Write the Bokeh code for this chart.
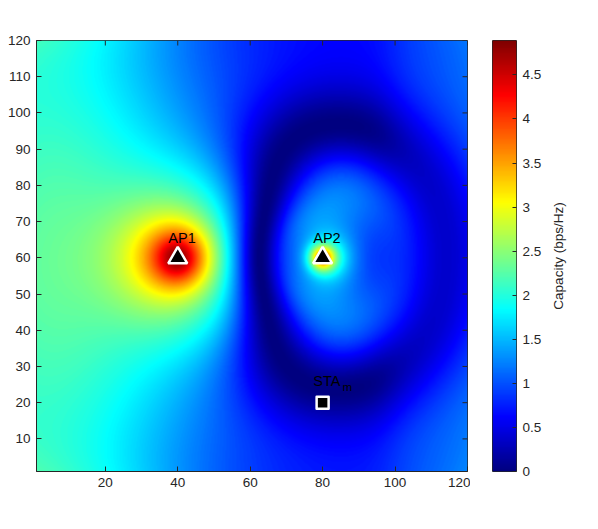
import numpy as np
from bokeh.plotting import figure
from bokeh.models import LinearColorMapper, Range1d, FixedTicker
from bokeh.layouts import row
from bokeh.embed import file_html
from bokeh.resources import INLINE
from bokeh.core.properties import value

# ---------------- data ----------------
ap_x = [40, 80]
ap_y = [60, 60]
ap_names = ["AP1", "AP2"]
sta_x = [80]
sta_y = [20]
sta_name = ["STA"]
sta_sub = ["m"]

x_ticks = [20, 40, 60, 80, 100, 120]
y_ticks = [10, 20, 30, 40, 50, 60, 70, 80, 90, 100, 110, 120]
cb_ticks = [0, 0.5, 1, 1.5, 2, 2.5, 3, 3.5, 4, 4.5]
cb_tick_labels = ["0", "0.5", "1", "1.5", "2", "2.5", "3", "3.5", "4", "4.5"]
c_max = 4.89
field_x = (1, 120)
field_y = (1, 120)
cb_label = "Capacity (bps/Hz)"

# capacity readings (x positions, values) along rows of constant y
row_y120_x = [1, 8.5, 17.7, 27, 36, 45, 55, 59, 66.6, 76, 85, 94, 104, 113, 120]
row_y120_c = [2.3, 2.0, 1.8, 1.6, 1.4, 1.2, 0.9, 0.8, 0.75, 0.6, 0.65, 0.8, 0.95, 1.1, 1.3]
row_y110_x = [57, 66.6, 76, 85, 94, 104, 113, 120]
row_y110_c = [0.9, 0.6, 0.4, 0.5, 0.7, 0.85, 1.0, 1.15]
row_y100_x = [1, 8.5, 17.7, 27, 36, 45, 55, 59, 66.6, 76, 80, 85, 94, 104, 113, 120]
row_y100_c = [2.1, 2.0, 1.85, 1.75, 1.6, 1.35, 1.0, 0.75, 0.5, 0.15, 0.15, 0.3, 0.5, 0.75, 0.9, 1.05]
row_y90_x = [57, 63, 66.6, 76, 85, 94, 99, 104, 113, 120]
row_y90_c = [0.8, 0.5, 0.25, 0.5, 0.6, 0.45, 0.4, 0.5, 0.75, 0.9]
row_y80_x = [1, 8.5, 17.7, 27, 36, 45, 51, 55, 59, 63, 66.6, 76, 80, 85, 94, 104, 113, 120]
row_y80_c = [2.2, 2.3, 2.2, 2.1, 2.0, 1.8, 1.5, 1.2, 0.7, 0.3, 0.4, 0.9, 1.0, 0.9, 0.65, 0.45, 0.45, 0.7]
row_y70_x = [1, 8.5, 17.7, 27, 36, 40, 45, 51, 55, 59, 63, 66.6, 76, 80, 85, 94, 104, 113, 120]
row_y70_c = [2.2, 2.4, 2.5, 2.7, 3.0, 3.3, 3.0, 2.0, 1.3, 0.6, 0.2, 0.5, 1.3, 1.7, 1.3, 0.9, 0.6, 0.5, 0.6]
row_y60_x = [1, 8.5, 17.7, 27, 31.5, 36, 40, 45, 48, 51, 53, 55, 57.4, 59, 61, 63, 66.6, 71, 75, 77,
             80, 83, 87, 94, 104, 113, 120]
row_y60_c = [2.2, 2.4, 2.6, 3.0, 3.7, 4.3, 4.87, 4.0, 3.1, 2.4, 1.9, 1.5, 1.1, 0.7, 0.3, 0.15, 0.55, 1.0,
             1.8, 2.4, 4.2, 2.6, 1.7, 1.2, 0.8, 0.6, 0.65]
row_y50_x = [57, 63, 66.6, 76, 80, 85, 94, 104, 113, 120]
row_y50_c = [0.8, 0.25, 0.5, 1.2, 1.5, 1.2, 0.85, 0.65, 0.55, 0.65]
row_y40_x = [1, 8.5, 17.7, 27, 36, 45, 51, 55, 59, 63, 66.6, 76, 80, 85, 94, 104, 113, 120]
row_y40_c = [2.1, 2.3, 2.3, 2.3, 2.1, 1.8, 1.4, 1.1, 0.7, 0.35, 0.45, 0.8, 0.9, 0.85, 0.7, 0.55, 0.55, 0.7]
row_y30_x = [57, 63, 66.6, 76, 80, 85, 94, 104, 113, 120]
row_y30_c = [0.85, 0.45, 0.35, 0.45, 0.5, 0.55, 0.5, 0.55, 0.65, 0.8]
row_y20_x = [1, 8.5, 17.7, 27, 36, 45, 55, 59, 63, 66.6, 76, 80, 85, 94, 104, 113, 120]
row_y20_c = [2.1, 2.0, 1.8, 1.75, 1.6, 1.35, 1.0, 0.8, 0.6, 0.3, 0.15, 0.0, 0.25, 0.45, 0.65, 0.8, 1.0]
row_y10_x = [57, 66.6, 76, 80, 85, 94, 104, 113, 120]
row_y10_c = [0.95, 0.6, 0.4, 0.35, 0.4, 0.6, 0.8, 1.0, 1.1]
row_y1_x = [1, 8.5, 17.7, 27, 36, 45, 55, 59, 66.6, 76, 85, 94, 104, 113, 120]
row_y1_c = [2.3, 2.1, 1.85, 1.7, 1.5, 1.3, 1.0, 0.85, 0.8, 0.6, 0.6, 0.75, 0.95, 1.1, 1.3]

# radius of the dark ring round AP2 (through STA_m): facing away from AP1 / facing AP1
ring_far, ring_near = 38.0, 17.0
# faint residual level of the ring on the far right
floor_level, floor_x, floor_w = 0.55, 97.0, 4.0

readings = [
    (120, row_y120_x, row_y120_c), (110, row_y110_x, row_y110_c), (100, row_y100_x, row_y100_c),
    (90, row_y90_x, row_y90_c), (80, row_y80_x, row_y80_c), (70, row_y70_x, row_y70_c),
    (60, row_y60_x, row_y60_c), (50, row_y50_x, row_y50_c), (40, row_y40_x, row_y40_c),
    (30, row_y30_x, row_y30_c), (20, row_y20_x, row_y20_c), (10, row_y10_x, row_y10_c),
    (1, row_y1_x, row_y1_c),
]
rx = np.concatenate([np.asarray(xs, float) for _, xs, _ in readings])
ry = np.concatenate([np.full(len(xs), float(yv)) for yv, xs, _ in readings])
rc = np.concatenate([np.asarray(cs, float) for _, _, cs in readings])

mid_x = 0.5 * (field_x[0] + field_x[1])
mid_y = 0.5 * (field_y[0] + field_y[1])


def floor_term(X):
    return floor_level / (1.0 + np.exp(-(X - floor_x) / floor_w))


def ring_radius(X, Y):
    dx = X - ap_x[1]
    dy = Y - ap_y[1]
    c = dx / np.maximum(np.hypot(dx, dy), 1e-9)
    s = np.clip((c + 1.0) / (1.0 - 0.1736), 0.0, 1.0) ** 1.3
    return ring_near + (ring_far - ring_near) * s


def basis(X, Y):
    d1x, d1y = X - ap_x[0], Y - ap_y[0]
    d2x, d2y = X - ap_x[1], Y - ap_y[1]
    r1 = d1x ** 2 + d1y ** 2
    r2 = d2x ** 2 + d2y ** 2
    xs = (X - mid_x) / 60.0
    ys = (Y - mid_y) / 60.0
    cols = [(1.0 + r1 / 36.0) ** -0.55, 1.0 / (1.0 + r2 / 10.0)]
    for w in (15.0, 30.0):
        g = np.exp(-r1 / w ** 2)
        cols += [g, g * d1x / w]
    for w in (8.0, 16.0, 28.0, 45.0, 70.0):
        g = np.exp(-r2 / w ** 2)
        cols += [g, g * d2x / w, g * (d2x ** 2 - d2y ** 2) / w ** 2]
    cols += [np.ones_like(X), xs, xs ** 2, ys ** 2]
    return np.stack(cols, axis=-1)


# signed amplitude at each reading: negative inside the ring round AP2
a2 = 2.0 ** rc - 1.0
u2 = np.maximum(a2 - floor_term(rx) ** 2, 0.0)
inside = np.hypot(rx - ap_x[1], ry - ap_y[1]) < ring_radius(rx, ry)
u_obs = np.where(inside, -1.0, 1.0) * np.sqrt(u2)
wts = np.maximum(2 * np.abs(u_obs) / (np.log(2) * (1 + u_obs ** 2)), 0.8)
Bm = basis(rx, ry) * wts[:, None]
rhs = u_obs * wts
BtB = Bm.T @ Bm
ridge = 1e-6 * np.trace(BtB) / BtB.shape[0]
coef = np.linalg.solve(BtB + ridge * np.eye(BtB.shape[0]), Bm.T @ rhs)

N = 431
gx = field_x[0] + (np.arange(N) + 0.5) * (field_x[1] - field_x[0]) / N
gy = field_y[0] + (np.arange(N) + 0.5) * (field_y[1] - field_y[0]) / N
GX, GY = np.meshgrid(gx, gy)
u = basis(GX, GY) @ coef
grid = np.log2(1.0 + u * u + floor_term(GX) ** 2)

# ---------------- jet colormap ----------------
t = np.linspace(0, 1, 256)
jr = np.clip(1.5 - np.abs(4 * t - 3), 0, 1)
jg = np.clip(1.5 - np.abs(4 * t - 2), 0, 1)
jb = np.clip(1.5 - np.abs(4 * t - 1), 0, 1)
jet = ["#%02x%02x%02x" % (int(round(a * 255)), int(round(b * 255)), int(round(c * 255)))
       for a, b, c in zip(jr, jg, jb)]
mapper = LinearColorMapper(palette=jet, low=0, high=c_max)

FONT = "Liberation Sans"
AXC = "#262626"


def style_axis(ax, ticks):
    ax.ticker = FixedTicker(ticks=ticks)
    ax.major_tick_in = 5
    ax.major_tick_out = 0
    ax.minor_tick_line_color = None
    ax.axis_line_color = AXC
    ax.major_tick_line_color = AXC
    ax.major_label_text_font = FONT
    ax.major_label_text_color = AXC
    ax.major_label_text_font_size = "13.5px"
    ax.major_label_standoff = 6


# ---------------- main heat map ----------------
p = figure(width=470, height=501, x_range=Range1d(field_x[0], field_x[1]),
           y_range=Range1d(field_y[0], field_y[1]), output_backend="svg",
           toolbar_location=None, tools="", min_border_left=36, min_border_right=3,
           min_border_top=40, min_border_bottom=30)
p.image(image=[grid], x=field_x[0], y=field_y[0], dw=field_x[1] - field_x[0],
        dh=field_y[1] - field_y[0], color_mapper=mapper)
p.grid.visible = False
p.outline_line_color = AXC
p.background_fill_color = "white"
p.border_fill_color = "white"
style_axis(p.xaxis[0], x_ticks)
style_axis(p.yaxis[0], y_ticks)

# mirrored inner ticks on the top and right edges of the box
tick_len = 5 * (field_x[1] - field_x[0]) / 431.0
p.segment(x0=x_ticks, y0=[field_y[1]] * len(x_ticks), x1=x_ticks,
          y1=[field_y[1] - tick_len] * len(x_ticks), line_color=AXC, line_width=1)
p.segment(x0=[field_x[1]] * len(y_ticks), y0=y_ticks, x1=[field_x[1] - tick_len] * len(y_ticks),
          y1=y_ticks, line_color=AXC, line_width=1)

p.scatter(x=ap_x, y=ap_y, marker="triangle", size=19, fill_color="black",
          line_color="white", line_width=2.5)
p.scatter(x=sta_x, y=sta_y, marker="square", size=12, fill_color="black",
          line_color="white", line_width=2.5, line_join="round")

label_dx = -2.6
label_dy = 5.6
p.text(x=[v + label_dx for v in ap_x], y=[v + label_dy for v in ap_y], text=ap_names,
       text_font=value(FONT), text_font_size="14.5px", text_color="black",
       text_align="left", text_baseline="alphabetic")
p.text(x=[v + label_dx for v in sta_x], y=[v + 6.1 for v in sta_y], text=sta_name,
       text_font=value(FONT), text_font_size="14.5px", text_color="black",
       text_align="left", text_baseline="alphabetic")
p.text(x=[v + 5.5 for v in sta_x], y=[v + 4.2 for v in sta_y], text=sta_sub,
       text_font=value(FONT), text_font_size="11.5px", text_color="black",
       text_align="left", text_baseline="alphabetic")

# ---------------- colour bar ----------------
cb = figure(width=76, height=501, x_range=Range1d(0, 1), y_range=Range1d(0, c_max),
            output_backend="svg", toolbar_location=None, tools="",
            min_border_left=22, min_border_right=30, min_border_top=40, min_border_bottom=30,
            x_axis_location=None, y_axis_location="right")
cb.image(image=[np.linspace(0, c_max, 256).reshape(-1, 1)], x=0, y=0, dw=1, dh=c_max,
         color_mapper=mapper)
cb.grid.visible = False
cb.outline_line_color = AXC
cb.background_fill_color = "white"
cb.border_fill_color = "white"
cax = cb.yaxis[0]
style_axis(cax, cb_ticks)
cax.axis_line_color = None
cax.major_tick_in = 4
cax.major_label_overrides = {tk: lb for tk, lb in zip(cb_ticks, cb_tick_labels)}

# colour-bar title, read bottom to top
lab = figure(width=24, height=501, x_range=Range1d(0, 1), y_range=Range1d(0, 1),
             output_backend="svg", toolbar_location=None, tools="",
             min_border_left=0, min_border_right=0, min_border_top=40, min_border_bottom=30,
             x_axis_location=None, y_axis_location=None)
lab.grid.visible = False
lab.outline_line_color = None
lab.background_fill_color = "white"
lab.border_fill_color = "white"
lab.text(x=[0.5], y=[0.5], text=[cb_label], angle=np.pi / 2, text_font=value(FONT),
         text_font_size="13.5px", text_color=AXC, text_align="center", text_baseline="middle")

layout = row(p, cb, lab)
open("out.html", "w").write(file_html(layout, INLINE))
